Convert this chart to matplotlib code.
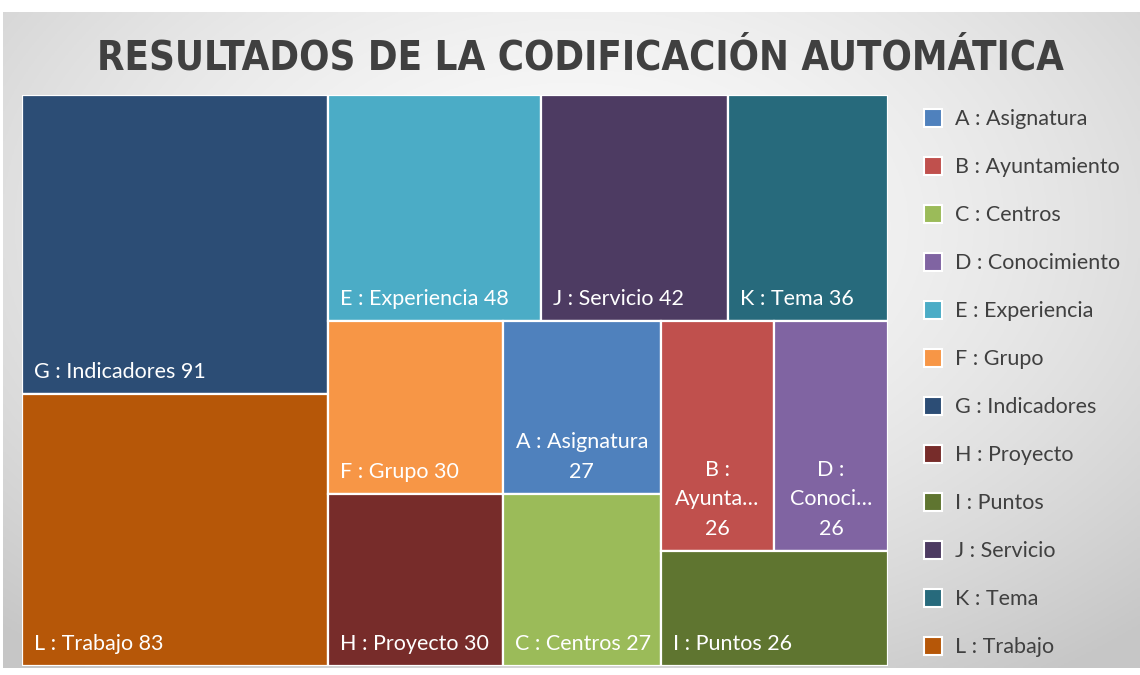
import matplotlib
matplotlib.use('Agg')
import matplotlib.pyplot as plt
from matplotlib.patches import Rectangle
from matplotlib import font_manager
import numpy as np

# ---------------- data ----------------
letters = ['A', 'B', 'C', 'D', 'E', 'F', 'G', 'H', 'I', 'J', 'K', 'L']
names = ['Asignatura', 'Ayuntamiento', 'Centros', 'Conocimiento', 'Experiencia',
         'Grupo', 'Indicadores', 'Proyecto', 'Puntos', 'Servicio', 'Tema', 'Trabajo']
values = [27, 26, 27, 26, 48, 30, 91, 30, 26, 42, 36, 83]
colors = ['#4F81BD', '#C0504D', '#9BBB59', '#8064A2', '#4BACC6', '#F79646',
          '#2C4D75', '#772C2A', '#5F7530', '#4D3B62', '#276A7C', '#B65708']
title = 'RESULTADOS DE LA CODIFICACIÓN AUTOMÁTICA'

W_PX, H_PX = 1140, 675
LABEL_FONT = 'Lato'
LABEL_SIZE = 15.5


def worst(row, side):
    s = sum(row)
    return max(max(side * side * r / (s * s), s * s / (side * side * r)) for r in row)


def squarify(areas, x, y, w, h, tol=1.03):
    rects = []
    areas = list(areas)
    while areas:
        side = min(w, h)
        row = [areas[0]]
        i = 1
        while i < len(areas) and worst(row + [areas[i]], side) <= worst(row, side) * tol:
            row.append(areas[i])
            i += 1
        areas = areas[i:]
        s = sum(row)
        if w >= h:
            cw = s / h
            yy = y
            for r in row:
                rh = r / cw
                rects.append((x, yy, cw, rh))
                yy += rh
            x += cw
            w -= cw
        else:
            rh = s / w
            xx = x
            for r in row:
                rw = r / rh
                rects.append((xx, y, rw, rh))
                xx += rw
            y += rh
            h -= rh
    return rects


fig = plt.figure(figsize=(W_PX / 100, H_PX / 100), dpi=100)
fig.patch.set_facecolor('white')

# panel background with soft radial gradient
bg = fig.add_axes([3 / W_PX, 7 / H_PX, 1137 / W_PX, 656 / H_PX])
gx, gy = np.meshgrid(np.linspace(-1, 1, 400), np.linspace(-1, 1, 240))
r = np.sqrt((gx * 0.9) ** 2 + ((gy + 0.35) * 0.8) ** 2)
shade = np.clip(0.985 - 0.13 * r ** 1.6, 0.78, 1.0)
bg.imshow(np.dstack([shade] * 3), aspect='auto', extent=(0, 1, 0, 1), origin='upper')
bg.set_axis_off()

# treemap axes
x0, y0, TW, TH = 22, 95, 866, 571
ax = fig.add_axes([x0 / W_PX, (H_PX - y0 - TH) / H_PX, TW / W_PX, TH / H_PX])
ax.set_xlim(0, TW)
ax.set_ylim(TH, 0)
ax.set_axis_off()

order = sorted(range(len(values)), key=lambda k: -values[k])
total = sum(values)
areas = [values[k] / total * TW * TH for k in order]
rects = squarify(areas, 0, 0, TW, TH)

renderer = fig.canvas.get_renderer()


def text_width(s, **kw):
    props = dict(fontsize=LABEL_SIZE, family=LABEL_FONT)
    props.update(kw)
    t = fig.text(0, 0, s, **props)
    wpx = t.get_window_extent(renderer=renderer).width
    t.remove()
    return wpx


PAD = 9
for k, (rx, ry, rw, rh) in zip(order, rects):
    ax.add_patch(Rectangle((rx, ry), rw, rh, facecolor=colors[k], edgecolor='white', lw=1.6))
    name = f'{letters[k]} : {names[k]}'
    full = f'{name} {values[k]}'
    avail = rw - 2 * PAD
    if text_width(full) <= avail:
        ax.text(rx + 12, ry + rh - 16, full, color='white', fontsize=LABEL_SIZE,
                family=LABEL_FONT, ha='left', va='baseline')
    else:
        words = name.split(' ')
        lines = []
        cur = ''
        for wd in words:
            cand = (cur + ' ' + wd).strip()
            if text_width(cand) <= avail:
                cur = cand
            else:
                if cur:
                    lines.append(cur)
                if text_width(wd) <= avail:
                    cur = wd
                else:
                    n = len(wd)
                    while n > 1 and text_width(wd[:n] + '…') > avail:
                        n -= 1
                    cur = wd[:n] + '…'
        if cur:
            lines.append(cur)
        lines.append(str(values[k]))
        ax.text(rx + rw / 2, ry + rh - 16, '\n'.join(lines), color='white',
                fontsize=LABEL_SIZE, family=LABEL_FONT, ha='center', va='baseline',
                multialignment='center', linespacing=1.6)

# title: prefer a condensed bold face, fit to the reference width
cond = [f for f in font_manager.fontManager.ttflist
        if ('Condensed' in f.fname or 'Narrow' in f.fname) and f.weight in ('bold', 700)]
title_kw = dict(fontweight='bold', family='Lato')
if cond:
    title_kw = dict(fontproperties=font_manager.FontProperties(fname=cond[0].fname))
size = 40.0
while size > 10 and text_width(title, fontsize=size, **title_kw) > 976:
    size -= 0.25
fig.text(580 / W_PX, 1 - 58 / H_PX, title, color='#404040', ha='center', va='center',
         **title_kw).set_fontsize(size)

# legend
for i in range(len(letters)):
    cy = 118 + 48 * i
    fig.patches.append(Rectangle((924 / W_PX, 1 - (cy + 9) / H_PX), 18 / W_PX, 18 / H_PX,
                                 transform=fig.transFigure, facecolor=colors[i],
                                 edgecolor='white', lw=1.5))
    fig.text(955 / W_PX, 1 - (cy + 1) / H_PX, f'{letters[i]} : {names[i]}',
             fontsize=LABEL_SIZE, family=LABEL_FONT, color='#404040', ha='left', va='center')

fig.savefig('out.png', dpi=100)
